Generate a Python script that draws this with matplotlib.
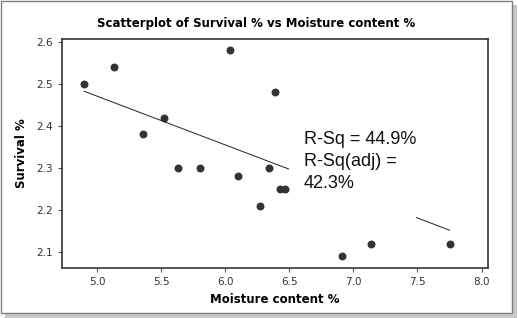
import numpy as np
import matplotlib.pyplot as plt
from matplotlib.patches import Rectangle

# values
moisture = [4.90, 5.13, 5.36, 5.52, 5.63, 5.80, 6.04, 6.10, 6.27, 6.34,
            6.39, 6.43, 6.47, 6.91, 7.14, 7.75]
survival = [2.50, 2.54, 2.38, 2.42, 2.30, 2.30, 2.58, 2.28, 2.21, 2.30,
            2.48, 2.25, 2.25, 2.09, 2.12, 2.12]
# fitted line as drawn in the reference
fit_intercept = 3.051
fit_slope = -0.116
x_ticks = [5.0, 5.5, 6.0, 6.5, 7.0, 7.5, 8.0]
y_ticks = [2.1, 2.2, 2.3, 2.4, 2.5, 2.6]
r_sq_text = "R-Sq = 44.9%\nR-Sq(adj) =\n42.3%"

fig = plt.figure(figsize=(5.18, 3.18), dpi=100)

# outer frame with drop shadow
fig.patches.append(Rectangle((5 / 518, 0), 512 / 518, 313 / 318, transform=fig.transFigure,
                             facecolor='#c8c8c8', edgecolor='none', zorder=-3))
fig.patches.append(Rectangle((1 / 518, 5 / 318), 511 / 518, 312 / 318, transform=fig.transFigure,
                             facecolor='white', edgecolor='#808080', lw=1, zorder=-2))

ax = fig.add_axes([62 / 518, 50 / 318, 426 / 518, 229 / 318])
ax.set_facecolor('white')

# regression line
xs = np.array([min(moisture), max(moisture)])
ax.plot(xs, fit_intercept + fit_slope * xs, color='#222222', lw=0.7, zorder=2)

# white box behind the annotation hides part of the line
ax.add_patch(Rectangle((0.533, 0.22), 0.298, 0.41, transform=ax.transAxes,
                       facecolor='white', edgecolor='none', zorder=3))
ax.text(0.568, 0.6, r_sq_text, transform=ax.transAxes, fontsize=13,
        family='Liberation Sans', va='top', ha='left', linespacing=1.4,
        color='#111111', zorder=4)

ax.scatter(moisture, survival, s=22, color='#333333', zorder=5)

ax.set_xlim(4.727, 8.05)
ax.set_ylim(2.062, 2.607)
ax.set_xticks(x_ticks)
ax.set_yticks(y_ticks)
ax.set_xticklabels([f'{v:.1f}' for v in x_ticks])
ax.set_yticklabels([f'{v:.1f}' for v in y_ticks])
ax.tick_params(labelsize=7.5, labelcolor='#333333', color='#555555', length=3, width=0.8)
for s in ax.spines.values():
    s.set_color('#333333')
    s.set_linewidth(1.2)

ax.set_xlabel('Moisture content %', fontsize=8.5, fontweight='bold', labelpad=4)
ax.set_ylabel('Survival %', fontsize=8.5, fontweight='bold', labelpad=6)
fig.text(0.494, 0.927, 'Scatterplot of Survival % vs Moisture content %',
         ha='center', va='center', fontsize=8.5, fontweight='bold')

fig.savefig('out.png', dpi=100, facecolor='white')
